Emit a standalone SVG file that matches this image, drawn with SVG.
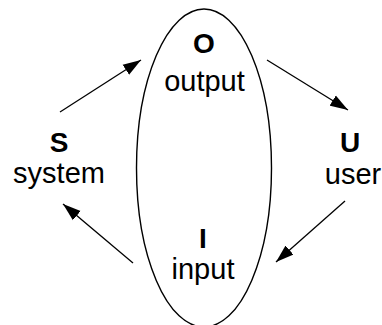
<svg xmlns="http://www.w3.org/2000/svg" width="382" height="325" viewBox="0 0 382 325">
  <style>
    .lbl { font-family: "Liberation Sans", Arial, sans-serif; font-size: 29px; fill: #000; text-anchor: middle; }
    .key { font-weight: bold; font-size: 28px; }
    .edge { stroke: #000; stroke-width: 1.3; fill: none; marker-end: url(#head); }
  </style>
  <defs>
    <marker id="head" markerUnits="userSpaceOnUse" markerWidth="19" markerHeight="13" refX="18" refY="6.5" orient="auto">
      <path d="M0,0.5 L18,6.5 L0,12.5 Z" fill="#000"/>
    </marker>
  </defs>
  <rect width="382" height="325" fill="#fff"/>

  <!-- central interface ellipse -->
  <g id="interface">
    <ellipse cx="204" cy="168" rx="67.5" ry="159" fill="none" stroke="#000" stroke-width="1.4"/>
  </g>

  <g id="output">
    <text class="lbl key" x="204" y="53">O</text>
    <text class="lbl" x="204.5" y="91">output</text>
  </g>

  <g id="input">
    <text class="lbl key" x="203" y="248">I</text>
    <text class="lbl" x="203" y="279">input</text>
  </g>

  <g id="system">
    <text class="lbl key" x="59" y="152">S</text>
    <text class="lbl" x="59" y="183">system</text>
  </g>

  <g id="user">
    <text class="lbl key" x="350" y="152">U</text>
    <text class="lbl" x="353" y="184">user</text>
  </g>

  <!-- cycle: system -> output -> user -> input -> system -->
  <g id="connectors">
    <line class="edge" x1="60" y1="112" x2="141" y2="60"/>
    <line class="edge" x1="267" y1="60" x2="348" y2="110"/>
    <line class="edge" x1="345" y1="201" x2="276" y2="262"/>
    <line class="edge" x1="133" y1="263" x2="63" y2="204"/>
  </g>
</svg>
